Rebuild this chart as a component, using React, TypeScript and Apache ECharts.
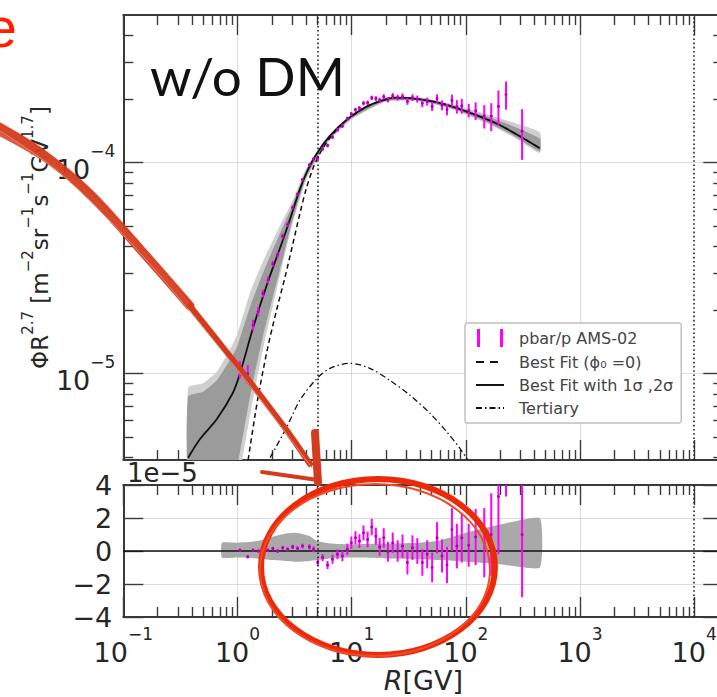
import React, { useEffect, useRef } from 'react';
import * as echarts from 'echarts';

// ---------------- data (flux in units of 1e-5 m^-2 sr^-1 s^-1 GV^1.7) ----------------
const X_MIN = 0.1;
const X_MAX = 18000;
const FLUX_MIN = 0.39;
const FLUX_MAX = 50;
const RES_MIN = -4;
const RES_MAX = 4;
const RES_STEP = 2;

// AMS-02 pbar/p data points (rigidity, flux, error) and residuals
const dataR = [1.05, 1.23, 1.37, 1.52, 1.67, 1.85, 2.04, 2.25, 2.49, 2.75, 3.04, 3.36, 3.71, 4.27, 4.64, 5.05, 5.57, 6.15, 6.8, 7.51, 8.3, 9.17, 9.94, 10.8, 11.7, 12.7, 13.8, 15.0, 16.3, 17.6, 19.1, 20.8, 22.9, 25.3, 27.9, 30.8, 34.1, 37.6, 41.6, 45.9, 50.7, 56.0, 61.9, 68.4, 75.6, 83.5, 92.2, 106, 122, 145, 167, 193, 225, 311];
const dataFlux = [1.05, 1.0, 1.7, 1.97, 2.4, 2.78, 3.31, 3.67, 4.48, 5.09, 6.12, 7.07, 8.3, 9.75, 10.4, 10.5, 11.6, 12.05, 13.2, 14.3, 14.9, 16.15, 17.0, 17.8, 18.1, 19.1, 19.2, 20.25, 20.1, 19.75, 20.5, 19.85, 20.7, 20.3, 20.55, 19.5, 20.3, 20.0, 19.1, 19.45, 18.45, 20.1, 18.7, 17.85, 19.7, 18.4, 18.55, 17.65, 17.6, 16.6, 16.6, 18.45, 21.0, 14.1];
const dataErr = [0.1, 0.1, 0.1, 0.1, 0.1, 0.11, 0.11, 0.12, 0.12, 0.13, 0.13, 0.14, 0.15, 0.16, 0.18, 0.2, 0.22, 0.25, 0.27, 0.3, 0.32, 0.35, 0.38, 0.4, 0.42, 0.45, 0.48, 0.5, 0.52, 0.55, 0.58, 0.6, 0.62, 0.65, 0.7, 0.72, 0.75, 0.78, 0.8, 0.85, 0.9, 0.95, 1.0, 1.1, 1.3, 1.35, 1.5, 1.3, 1.7, 2.1, 2.5, 3.5, 3.2, 3.8];
const residual = [0.05, -0.35, 0.05, 0.0, 0.1, 0.05, 0.15, 0.0, 0.2, 0.1, 0.25, 0.15, 0.3, 0.25, 0.1, -0.7, -0.4, -0.85, -0.5, -0.2, -0.3, 0.1, 0.5, 0.8, 0.6, 1.1, 0.7, 1.45, 0.9, 0.25, 0.8, -0.05, 0.5, 0.0, 0.3, -0.7, 0.2, 0.0, -0.7, -0.2, -1.0, 0.8, -0.3, -0.85, 1.3, 0.3, 0.8, 0.35, 0.85, 0.5, 1.0, 3.3, 6.5, 1.0];

// Best fit with modulation
const fitR = [0.37, 0.47, 0.66, 0.91, 1.05, 1.37, 1.81, 2.5, 2.88, 3.5, 4.05, 4.94, 6.4, 9.1, 13.5, 17.6, 23.9, 35, 58.6, 100, 196, 445];
const fitFlux = [0.4, 0.49, 0.61, 0.81, 1.0, 1.65, 2.64, 4.3, 5.37, 7.4, 9.0, 11.0, 13.3, 16.0, 18.4, 19.5, 20.3, 20.1, 19.2, 17.5, 15.1, 11.7];
// Best fit phi0 = 0
const noModR = [1.24, 1.29, 1.5, 1.82, 2.2, 2.61, 3.05, 3.53, 4.0, 4.59, 5.3, 6.2, 7.5, 9.1, 13.5, 17.6, 23.9, 35, 58.6, 100, 196, 445];
const noModFlux = [0.39, 0.45, 0.75, 1.29, 2.0, 2.87, 4.1, 5.77, 7.5, 9.4, 11.1, 12.7, 14.4, 15.95, 18.4, 19.5, 20.3, 20.1, 19.2, 17.5, 15.1, 11.7];
// Tertiary
const terR = [1.93, 2.71, 3.53, 4.98, 6.46, 9.64, 14.4, 21.6, 32.4, 48.4, 68.1, 88.2, 104];
const terFlux = [0.4, 0.56, 0.75, 0.95, 1.06, 1.12, 1.06, 0.93, 0.79, 0.65, 0.53, 0.445, 0.39];

// 1 sigma / 2 sigma bands
const bandR = [0.37, 0.5, 0.66, 0.91, 1.0, 1.3, 1.67, 2.35, 3.0, 4.0, 6.0, 10, 20, 40, 80, 150, 250, 445];
const band2Hi = [0.86, 0.9, 1.02, 1.38, 1.55, 2.45, 3.4, 5.0, 6.5, 9.4, 13.1, 16.9, 20.4, 20.4, 18.8, 17.0, 15.6, 13.9];
const band1Hi = [0.78, 0.82, 0.93, 1.22, 1.36, 2.1, 3.0, 4.6, 6.2, 9.2, 12.9, 16.7, 20.2, 20.2, 18.5, 16.6, 15.0, 13.0];
const band1Lo = [0.3, 0.3, 0.31, 0.34, 0.37, 0.8, 1.5, 3.1, 5.2, 8.5, 12.4, 16.2, 19.6, 19.7, 17.9, 15.6, 13.6, 11.3];
const band2Lo = [0.25, 0.25, 0.26, 0.28, 0.3, 0.65, 1.3, 2.9, 5.0, 8.3, 12.2, 16.0, 19.4, 19.5, 17.7, 15.4, 13.4, 11.1];

// residual band
const resBandR = [0.73, 1.0, 1.5, 2.0, 2.6, 3.3, 4.3, 5.0, 6.5, 10, 20, 40, 60, 100, 200, 445];
const resBandHi = [0.5, 0.5, 0.6, 0.85, 1.05, 1.1, 0.9, 0.6, 0.45, 0.4, 0.45, 0.5, 0.65, 1.1, 1.6, 2.0];
const resBandLo = [-0.4, -0.4, -0.45, -0.55, -0.6, -0.65, -0.6, -0.55, -0.45, -0.4, -0.45, -0.5, -0.55, -0.65, -0.8, -1.0];

const gridDecades = [1, 10, 100, 1000];
const gridFluxes = [1, 10];
const markerRigidities = [5, 10000];

const DATA_NAME = 'pbar/p AMS-02';
const NOMOD_NAME = 'Best Fit (\u03d5\u2080 =0)';
const FIT_NAME = 'Best Fit with 1\u03c3 ,2\u03c3';
const TER_NAME = 'Tertiary';

// ---------------- styling ----------------
const FONT = "'DejaVu Sans', sans-serif";
const INK = '#262626';
const AXIS = '#3a3a3a';
const GRIDC = '#dcdcdc';
const MAGENTA = '#ff00ff';
const RED = '#d43a1e';
const RED2 = '#ec2a0a';

const LX0 = Math.log10(X_MIN);
const LX1 = Math.log10(X_MAX);
const LY0 = Math.log10(FLUX_MIN);
const LY1 = Math.log10(FLUX_MAX);

function majors(lo: number, hi: number) {
  const out: number[] = [];
  for (let m = Math.ceil(lo); m <= Math.floor(hi); m++) out.push(m);
  return out;
}
function minors(lo: number, hi: number) {
  const out: number[] = [];
  for (let m = Math.floor(lo) - 1; m <= Math.ceil(hi); m++) {
    for (let k = 2; k <= 9; k++) {
      const v = m + Math.log10(k);
      if (v > lo + 1e-6 && v < hi - 1e-6) out.push(v);
    }
  }
  return out;
}
const sup = (e: number) => (e < 0 ? '\u2212' + -e : String(e));
const powRich = {
  b: { fontSize: 27, fontFamily: FONT, color: INK, padding: [14, 0, 0, 0], verticalAlign: 'bottom' },
  e: { fontSize: 17, fontFamily: FONT, color: INK, verticalAlign: 'top' },
};

function tickAxis(grid: number, position: string, min: number, max: number, values: number[], len: number, line: boolean, label?: any, extra?: any) {
  return {
    type: 'value',
    gridIndex: grid,
    position,
    min,
    max,
    axisLine: { show: line, onZero: false, lineStyle: { color: AXIS, width: 2 } },
    axisTick: { show: true, inside: true, length: len, customValues: values, lineStyle: { color: AXIS, width: 1.4 } },
    axisLabel: label || { show: false },
    splitLine: { show: false },
    ...(extra || {}),
  };
}

function band(lo: number[], hi: number[], xs: number[], color: string, ax: number) {
  return {
    type: 'custom',
    xAxisIndex: ax,
    yAxisIndex: ax,
    z: 1,
    silent: true,
    clip: true,
    data: [[xs[0], hi[0]]],
    renderItem: (params: any, api: any) => {
      const top = xs.map((x, i) => api.coord([x, hi[i]]));
      const bot = xs.map((x, i) => api.coord([x, lo[i]])).reverse();
      return { type: 'polygon', shape: { points: top.concat(bot), smooth: 0.15 }, style: { fill: color } };
    },
  };
}

function errBars(ys: number[], ax: number) {
  return {
    name: DATA_NAME,
    type: 'custom',
    xAxisIndex: ax,
    yAxisIndex: ax,
    z: 4,
    clip: true,
    silent: true,
    itemStyle: { color: MAGENTA },
    data: dataR.map((r, i) => [r, ys[i], dataErr[i]]),
    encode: { x: 0, y: 1 },
    renderItem: (params: any, api: any) => {
      const x = api.value(0);
      const y = api.value(1);
      const e = api.value(2);
      const c = api.coord([x, y]);
      const hi = api.coord([x, y + e]);
      const lo = api.coord([x, y - e]);
      return {
        type: 'group',
        children: [
          { type: 'line', shape: { x1: c[0], y1: hi[1], x2: c[0], y2: lo[1] }, style: { stroke: MAGENTA, lineWidth: 2 } },
          { type: 'circle', shape: { cx: c[0], cy: c[1], r: 1.5 }, style: { fill: '#b000b0' } },
        ],
      };
    },
  };
}

function curve(name: string, xs: number[], ys: number[], type: any, width: number) {
  return {
    name,
    type: 'line',
    xAxisIndex: 0,
    yAxisIndex: 0,
    z: 3,
    silent: true,
    symbol: 'none',
    smooth: 0.3,
    data: xs.map((x, i) => [x, ys[i]]),
    itemStyle: { color: '#111' },
    lineStyle: { color: '#111', width, type },
  };
}

function host(ax: number, mark: any) {
  return {
    type: 'line',
    xAxisIndex: ax,
    yAxisIndex: ax,
    silent: true,
    symbol: 'none',
    lineStyle: { width: 0 },
    data: [[1, ax === 0 ? 1 : 0]],
    markLine: mark,
  };
}

function gridMark(xs: number[], ys: number[]) {
  return {
    silent: true,
    z: 0,
    symbol: ['none', 'none'],
    label: { show: false },
    lineStyle: { color: GRIDC, width: 1, type: 'solid' },
    data: [...xs.map((x) => ({ xAxis: x })), ...ys.map((y) => ({ yAxis: y }))],
  };
}
function dottedMark() {
  return {
    silent: true,
    z: 5,
    symbol: ['none', 'none'],
    label: { show: false },
    lineStyle: { color: '#222', width: 1.6, type: [1.6, 2.6] },
    data: markerRigidities.map((x) => ({ xAxis: x })),
  };
}

const G0 = { left: 123.3, top: 15, width: 600, height: 445 };
const G1 = { left: 123.3, top: 485, width: 600, height: 132 };

function buildOption() {
  const xMaj = majors(LX0, LX1);
  const xMin = minors(LX0, LX1);
  const yMaj = majors(LY0, LY1);
  const yMin = minors(LY0, LY1);

  const xLabel = {
    show: true,
    customValues: xMaj,
    margin: 8,
    formatter: (v: number) => `{b|10}{e|${sup(Math.round(v))}}`,
    rich: powRich,
  };
  const yLabel = {
    show: true,
    customValues: yMaj,
    margin: 8,
    formatter: (v: number) => `{b|10}{e|${sup(Math.round(v) - 5)}}`,
    rich: powRich,
  };

  const xAxis = [
    { type: 'log', gridIndex: 0, min: X_MIN, max: X_MAX, show: false },
    { type: 'log', gridIndex: 1, min: X_MIN, max: X_MAX, show: false },
    tickAxis(0, 'bottom', LX0, LX1, xMaj, 20, true),
    tickAxis(0, 'bottom', LX0, LX1, xMin, 10, false),
    tickAxis(0, 'top', LX0, LX1, xMaj, 20, true),
    tickAxis(0, 'top', LX0, LX1, xMin, 10, false),
    tickAxis(1, 'bottom', LX0, LX1, xMaj, 20, true, xLabel, {
      name: '{i|R}[GV]',
      nameLocation: 'middle',
      nameGap: 50,
      nameMoveOverlap: false,
      nameTextStyle: {
        fontSize: 27,
        fontFamily: FONT,
        color: INK,
        rich: { i: { fontSize: 27, fontFamily: FONT, color: INK, fontStyle: 'italic' } },
      },
    }),
    tickAxis(1, 'bottom', LX0, LX1, xMin, 10, false),
    tickAxis(1, 'top', LX0, LX1, xMaj, 20, true),
    tickAxis(1, 'top', LX0, LX1, xMin, 10, false),
  ];

  const yAxis = [
    { type: 'log', gridIndex: 0, min: FLUX_MIN, max: FLUX_MAX, show: false },
    {
      type: 'value',
      gridIndex: 1,
      position: 'left',
      min: RES_MIN,
      max: RES_MAX,
      interval: RES_STEP,
      axisLine: { show: true, onZero: false, lineStyle: { color: AXIS, width: 2 } },
      axisTick: { show: true, inside: true, length: 20, lineStyle: { color: AXIS, width: 1.4 } },
      axisLabel: {
        show: true,
        margin: 11,
        fontSize: 27,
        fontFamily: FONT,
        color: INK,
        formatter: (v: number) => sup(v),
      },
      splitLine: { show: true, lineStyle: { color: GRIDC, width: 1 } },
    },
    tickAxis(0, 'left', LY0, LY1, yMaj, 20, true, yLabel, {
      name: '{n|\u03a6R}{s|2.7}{n| [m}{s|\u22122}{n|sr}{s|\u22121}{n|s}{s|\u22121}{n|GV}{s|1.7}{n|]}',
      nameLocation: 'middle',
      nameRotate: 90,
      nameGap: 72,
      nameMoveOverlap: false,
      nameTextStyle: {
        fontFamily: FONT,
        color: INK,
        rich: {
          n: { fontSize: 23, fontFamily: FONT, color: INK, padding: [8, 0, 0, 0], verticalAlign: 'bottom' },
          s: { fontSize: 15, fontFamily: FONT, color: INK, verticalAlign: 'top' },
        },
      },
    }),
    tickAxis(0, 'left', LY0, LY1, yMin, 10, false),
    tickAxis(0, 'right', LY0, LY1, yMaj, 20, true),
    tickAxis(0, 'right', LY0, LY1, yMin, 10, false),
    {
      type: 'value',
      gridIndex: 1,
      position: 'right',
      min: RES_MIN,
      max: RES_MAX,
      interval: RES_STEP,
      axisLine: { show: true, onZero: false, lineStyle: { color: AXIS, width: 2 } },
      axisTick: { show: true, inside: true, length: 20, lineStyle: { color: AXIS, width: 1.4 } },
      axisLabel: { show: false },
      splitLine: { show: false },
    },
  ];

  const series: any[] = [
    host(0, gridMark(gridDecades, gridFluxes)),
    host(1, gridMark(gridDecades, [])),
    band(band2Lo, band2Hi, bandR, '#cfcfcf', 0),
    band(band1Lo, band1Hi, bandR, '#9b9b9b', 0),
    band(resBandLo, resBandHi, resBandR, '#a9a9a9', 1),
    curve(TER_NAME, terR, terFlux, [6, 3, 1.5, 3], 1.3),
    curve(NOMOD_NAME, noModR, noModFlux, [5, 3.5], 1.5),
    curve(FIT_NAME, fitR, fitFlux, 'solid', 1.8),
    errBars(dataFlux, 0),
    errBars(residual, 1),
    {
      type: 'line',
      xAxisIndex: 1,
      yAxisIndex: 1,
      z: 3,
      silent: true,
      symbol: 'none',
      data: [[X_MIN, 0], [X_MAX, 0]],
      lineStyle: { color: '#111', width: 1.5 },
    },
    host(0, dottedMark()),
    host(1, dottedMark()),
  ];

  return {
    animation: false,
    backgroundColor: '#ffffff',
    grid: [
      { ...G0, containLabel: false, outerBoundsMode: 'none' },
      { ...G1, containLabel: false, outerBoundsMode: 'none' },
    ],
    xAxis,
    yAxis,
    legend: {
      left: 465,
      top: 323,
      orient: 'vertical',
      itemWidth: 28,
      itemHeight: 18,
      itemGap: 7,
      padding: [6, 8, 7, 10],
      backgroundColor: '#ffffff',
      borderColor: '#a0a0a0',
      borderWidth: 1,
      borderRadius: 2,
      selectedMode: false,
      itemStyle: { opacity: 0 },
      textStyle: { fontFamily: FONT, fontSize: 16, color: '#444', padding: [0, 0, 0, 10] },
      data: [
        { name: DATA_NAME, icon: 'path://M0,0h3v18h-3zM23,0h3v18h-3z', itemStyle: { opacity: 1, color: MAGENTA } },
        { name: NOMOD_NAME, lineStyle: { type: [8, 6] } },
        { name: FIT_NAME },
        { name: TER_NAME },
      ],
    },
    series,
    graphic: [
      {
        type: 'text',
        x: 150,
        y: 75,
        z: 50,
        style: { text: 'w/o DM', fontSize: 53, fontFamily: 'Lato, sans-serif', fill: '#111', align: 'left', verticalAlign: 'middle' },
      },
      {
        type: 'text',
        x: 127,
        y: 473,
        z: 50,
        style: { text: '1e\u22125', fontSize: 26, fontFamily: FONT, fill: INK, align: 'left', verticalAlign: 'middle' },
      },
      {
        type: 'text',
        x: 17,
        y: 27,
        z: 100,
        style: { text: 'e', fontSize: 56, fontFamily: "'Liberation Sans', sans-serif", fill: '#ff1e00', align: 'right', verticalAlign: 'middle' },
      },
      // hand-drawn arrow (several strands)
      {
        type: 'polyline',
        z: 100,
        shape: { points: [[-6, 124], [40, 152], [90, 194], [140, 249], [190, 306]], smooth: 0.3 },
        style: { stroke: RED, lineWidth: 9, lineCap: 'round', fill: 'none', opacity: 0.95 },
      },
      {
        type: 'polyline',
        z: 100,
        shape: { points: [[-6, 131], [45, 160], [95, 201], [145, 256], [192, 310]], smooth: 0.3 },
        style: { stroke: '#d84a2c', lineWidth: 4, lineCap: 'round', fill: 'none', opacity: 0.9 },
      },
      {
        type: 'polyline',
        z: 100,
        shape: { points: [[190, 306], [240, 369], [285, 428], [310, 464]], smooth: 0.3 },
        style: { stroke: RED, lineWidth: 6, lineCap: 'round', fill: 'none' },
      },
      {
        type: 'polyline',
        z: 101,
        shape: { points: [[-6, 127], [60, 173], [140, 253], [240, 373], [312, 468]], smooth: 0.3 },
        style: { stroke: '#e8866e', lineWidth: 1, lineCap: 'round', fill: 'none' },
      },
      {
        type: 'line',
        z: 100,
        shape: { x1: 262, y1: 472, x2: 318, y2: 480 },
        style: { stroke: RED, lineWidth: 4, lineCap: 'round' },
      },
      {
        type: 'line',
        z: 100,
        shape: { x1: 315, y1: 433, x2: 318, y2: 482 },
        style: { stroke: RED, lineWidth: 8, lineCap: 'round' },
      },
      // hand-drawn ellipse
      {
        type: 'ellipse',
        z: 100,
        shape: { cx: 378, cy: 567, rx: 117, ry: 88 },
        style: { fill: 'none', stroke: RED2, lineWidth: 6 },
      },
      {
        type: 'ellipse',
        z: 100,
        shape: { cx: 375, cy: 570, rx: 115, ry: 86 },
        style: { fill: 'none', stroke: '#f04a28', lineWidth: 2 },
      },
    ],
  };
}

export default function App() {
  const ref = useRef<HTMLDivElement>(null);
  useEffect(() => {
    if (!ref.current) return;
    const chart = echarts.init(ref.current, undefined, { renderer: 'svg' });
    chart.setOption(buildOption() as any);
    return () => chart.dispose();
  }, []);
  return (
    <div
      ref={ref}
      style={{ position: 'absolute', left: 0, top: 0, width: 717, height: 697, background: '#fff' }}
    />
  );
}
